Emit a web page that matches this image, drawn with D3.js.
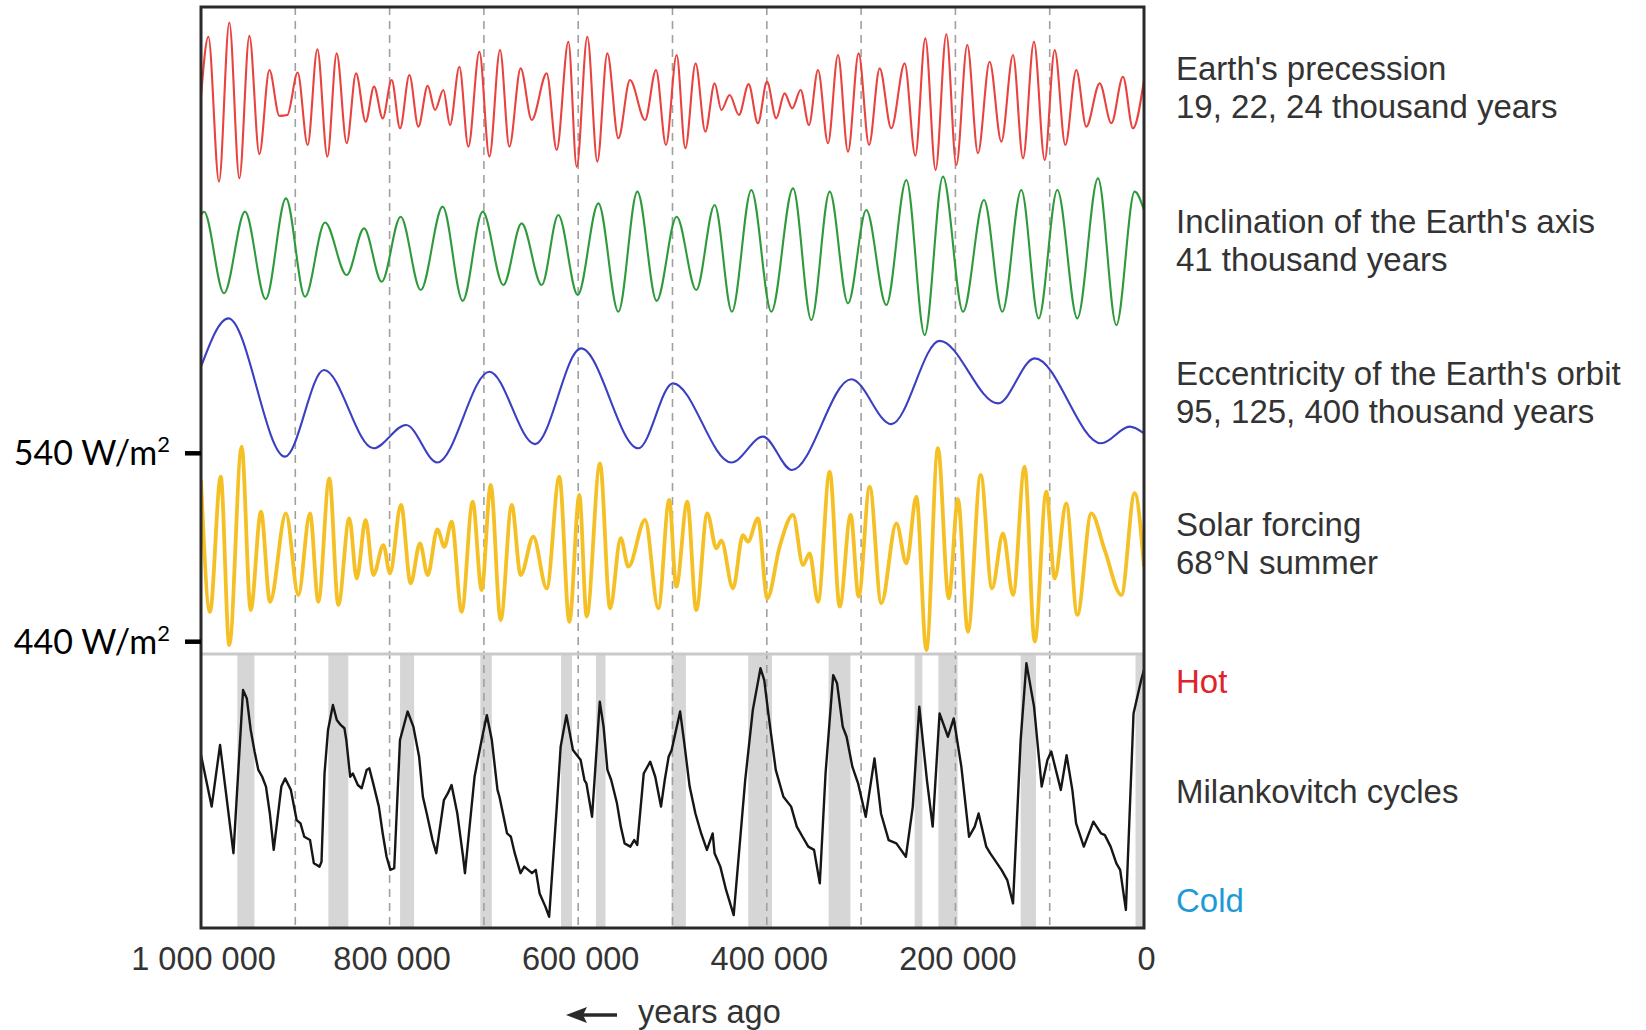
<!DOCTYPE html>
<html>
<head>
<meta charset="utf-8">
<script src="https://cdn.jsdelivr.net/npm/d3@7/dist/d3.min.js"></script>
<style>
  html, body { margin: 0; padding: 0; background: #fff; }
  svg { display: block; }
</style>
</head>
<body>
<svg id="chart" width="1646" height="1030"></svg>
<script>
// Time axis: thousands of years before present
const xTicks = [1000, 800, 600, 400, 200, 0];
const gridLines = [900, 800, 700, 600, 500, 400, 300, 200, 100];

// Precession index (relative units), [ka, value]
const precession = [
  [1000, 4], [992.2, 76], [980.9, -98], [970.0, 93], [959.3, -94], [948.7, 77], [938.1, -65],
  [927.5, 36], [916.9, -19], [908.4, -18], [897.5, 33], [886.9, -54], [876.6, 61], [866.0, -68],
  [856.1, 56], [845.5, -52], [835.6, 32], [825.4, -26], [816.5, 16], [807.3, -22], [797.8, 24],
  [788.9, -34], [779.0, 30], [769.5, -32], [759.6, 17], [751.8, -12], [743.0, 12], [735.9, -30],
  [726.0, 40], [716.5, -56], [704.8, 58], [694.2, -68], [682.9, 60], [673.0, -56], [661.0, 38],
  [649.3, -24], [633.4, 32], [622.8, -60], [610.4, 70], [601.6, -80], [590.3, 76], [579.7, -74],
  [569.1, 56], [557.4, -46], [545.1, 24], [529.1, -24], [517.5, 36], [506.9, -54], [495.6, 54],
  [486.4, -58], [475.5, 44], [465.2, -38], [455.3, 20], [448.2, -12], [439.4, 6], [429.5, -18],
  [419.3, 19], [409.4, -28], [399.8, 22], [390.0, -22], [381.1, 8], [373.0, -10], [364.1, 12],
  [355.3, -30], [345.7, 36], [335.1, -52], [324.5, 54], [313.9, -62], [302.6, 56], [291.6, -54],
  [280.3, 38], [268.0, -34], [253.8, 44], [242.5, -67], [231.9, 74], [221.0, -84], [209.6, 79],
  [199.0, -78], [187.4, 66], [176.1, -64], [163.7, 46], [151.3, -50], [138.9, 54], [128.3, -70],
  [116.7, 70], [105.3, -72], [94.7, 60], [83.4, -54], [71.8, 36], [61.2, -32], [47.0, 20],
  [34.6, -28], [22.3, 28], [11.7, -34], [0, 24]
];

// Obliquity (relative units), [ka, value]
const obliquity = [
  [1000, 46], [996.8, 50], [975.6, -48], [953.3, 50], [931.4, -55], [909.9, 66], [889.7, -52],
  [868.5, 37], [845.5, -26], [827.1, 30], [808.4, -34], [788.3, 44], [767.0, -44], [743.7, 56],
  [722.5, -57], [701.3, 50], [679.4, -38], [660.0, 36], [638.7, -38], [621.1, 46], [600.5, -50],
  [578.6, 60], [557.4, -70], [537.3, 74], [516.8, -57], [495.6, 44], [474.8, -44], [455.3, 58],
  [437.0, -70], [416.4, 76], [395.2, -70], [372.2, 78], [352.8, -80], [333.3, 74], [313.9, -60],
  [294.5, 52], [273.3, -62], [252.0, 88], [232.6, -98], [213.2, 92], [191.9, -70], [169.7, 64],
  [150.2, -70], [130.1, 76], [111.7, -78], [91.9, 76], [70.7, -78], [48.8, 90], [29.3, -86],
  [9.9, 74], [0, 52]
];

// Eccentricity (relative units), [ka, value]
const eccentricity = [
  [1000, 40], [971.0, 98], [910.9, -68], [869.6, 36], [817.2, -58], [782.6, -30], [749.4, -75],
  [694.2, 34], [645.8, -53], [597.0, 62], [536.2, -58], [499.5, 20], [437.6, -75], [404.0, -44],
  [373.3, -84], [310.4, 25], [268.0, -29], [216.7, 71], [154.8, -4], [115.9, 50], [45.3, -52],
  [15.2, -32], [0, -40]
];

// Summer insolation at 68°N (W/m²), [ka, value]
const solarForcing = [
  [1000, 525.8], [990.5, 455.9], [979.1, 527.6], [970.0, 438.2], [956.9, 543.5], [947.3, 456.8],
  [936.4, 509.0], [926.8, 461.2], [909.9, 508.1], [896.8, 464.8], [884.4, 508.1], [875.6, 461.2],
  [863.9, 526.7], [854.4, 459.5], [842.7, 505.5], [834.9, 473.6], [825.4, 504.6], [817.2, 475.4],
  [806.6, 491.3], [799.6, 476.3], [787.9, 512.6], [777.7, 471.0], [767.8, 492.2], [759.6, 475.4],
  [749.4, 499.6], [741.9, 490.4], [734.2, 503.7], [723.6, 455.9], [711.9, 514.3], [702.4, 467.4],
  [692.8, 523.2], [682.2, 451.5], [670.5, 512.6], [661.0, 475.4], [647.6, 495.7], [633.4, 468.3],
  [620.0, 527.6], [609.4, 450.6], [598.8, 517.9], [591.0, 453.3], [576.9, 534.7], [566.2, 457.7],
  [554.9, 494.9], [546.8, 479.8], [529.1, 504.6], [515.0, 457.7], [503.5, 515.2], [496.0, 469.2],
  [484.3, 514.3], [474.8, 456.8], [463.1, 508.1], [453.5, 489.6], [448.2, 493.6], [435.9, 468.3],
  [425.3, 496.6], [420.0, 493.1], [409.4, 505.5], [399.5, 463.0], [386.4, 490.4], [372.2, 507.3],
  [361.6, 480.7], [354.6, 486.9], [345.7, 461.2], [333.3, 530.3], [322.7, 458.6], [311.1, 507.3],
  [302.6, 463.9], [290.9, 522.3], [278.6, 460.4], [262.6, 502.8], [252.0, 481.6], [241.4, 517.0],
  [230.8, 435.6], [218.5, 542.7], [207.1, 463.0], [197.3, 515.6], [186.7, 445.3], [173.2, 528.5],
  [161.2, 468.3], [149.5, 497.5], [138.9, 464.8], [126.6, 532.9], [115.9, 440.0], [103.6, 519.6],
  [94.7, 473.6], [82.4, 513.4], [70.7, 454.2], [55.9, 508.1], [41.7, 488.7], [24.0, 464.8],
  [9.9, 518.8], [0, 479.8]
];

// Climate record (relative warmth, 0 = coldest, 100 = warmest), [ka, value]
const climate = [
  [1000, 63.1], [988.7, 44.3], [979.8, 66.8], [965.6, 27.3], [955.4, 86.9], [951.4, 83.8],
  [947.3, 72.3], [943.2, 64.4], [939.2, 57.7], [935.1, 55.2], [931.1, 51.6], [927.0, 41.8],
  [922.9, 28.5], [914.8, 51.6], [910.8, 54.6], [904.7, 50.4], [898.6, 39.4], [894.5, 38.2],
  [890.5, 33.3], [884.4, 32.1], [880.3, 23.6], [874.3, 22.4], [872.2, 24.2], [869.0, 56.4],
  [865.3, 72.3], [860.1, 81.4], [856.0, 75.9], [851.9, 74.1], [847.9, 72.9], [845.9, 68.6],
  [841.8, 55.2], [839.0, 56.4], [833.7, 52.2], [829.6, 51.0], [824.3, 57.7], [821.5, 58.3],
  [817.4, 52.8], [811.4, 44.3], [807.3, 34.5], [803.2, 26.0], [799.2, 21.2], [795.1, 21.8],
  [789.0, 68.6], [780.9, 79.0], [774.8, 73.5], [768.7, 62.5], [764.7, 47.9], [760.6, 41.8],
  [754.5, 32.1], [750.5, 27.3], [742.4, 46.7], [738.3, 49.1], [734.3, 52.2], [728.2, 41.8],
  [722.1, 26.0], [720.1, 20.0], [709.9, 55.2], [703.8, 66.2], [696.9, 77.7], [691.6, 68.6],
  [685.6, 50.4], [683.5, 47.9], [675.4, 34.5], [671.4, 33.3], [667.3, 27.3], [661.2, 20.0],
  [657.2, 22.4], [649.0, 20.0], [645.0, 21.2], [640.9, 12.6], [634.8, 7.8], [630.8, 4.1],
  [622.7, 44.3], [618.6, 66.2], [612.5, 77.7], [605.6, 65.0], [597.4, 61.3], [593.4, 54.0],
  [591.3, 52.8], [585.3, 40.6], [577.1, 82.6], [573.1, 73.5], [569.0, 57.7], [565.0, 54.0],
  [558.9, 45.5], [554.8, 37.0], [550.8, 30.9], [544.7, 29.7], [540.6, 32.1], [537.4, 30.3],
  [530.5, 56.4], [523.6, 60.7], [518.3, 55.2], [514.2, 47.9], [512.2, 44.3], [508.2, 54.0],
  [504.1, 62.5], [500.9, 65.0], [491.9, 79.0], [487.9, 68.6], [481.8, 51.6], [475.7, 41.8],
  [469.6, 34.5], [463.5, 28.5], [457.4, 34.5], [455.4, 27.3], [449.3, 22.4], [443.2, 13.9],
  [435.1, 4.7], [422.9, 54.0], [414.8, 79.6], [406.7, 94.8], [402.7, 90.5], [398.6, 79.0],
  [390.5, 57.7], [382.4, 47.9], [374.2, 44.3], [368.2, 37.0], [362.1, 33.3], [356.0, 29.7],
  [349.9, 28.5], [343.8, 16.3], [337.7, 56.4], [329.6, 92.3], [325.5, 89.3], [319.5, 73.5],
  [315.4, 69.8], [309.3, 58.9], [303.2, 52.8], [295.1, 40.6], [285.8, 61.9], [278.9, 41.8],
  [270.8, 32.1], [262.6, 30.9], [252.5, 26.0], [245.2, 44.3], [238.3, 80.8], [230.2, 54.0],
  [224.1, 37.0], [216.8, 78.3], [207.9, 69.8], [201.8, 76.5], [193.7, 58.9], [185.5, 33.3],
  [179.5, 37.0], [175.4, 41.8], [167.3, 29.7], [163.2, 27.3], [151.1, 21.2], [145.0, 17.5],
  [138.9, 9.0], [130.8, 68.6], [124.7, 96.6], [116.6, 80.8], [108.5, 51.6], [102.4, 61.3],
  [98.3, 64.4], [88.2, 50.4], [82.1, 63.1], [76.0, 50.4], [72.0, 38.2], [63.8, 29.7],
  [53.7, 38.8], [45.5, 34.5], [41.5, 33.9], [35.4, 29.7], [29.3, 23.6], [25.3, 21.2],
  [19.2, 6.6], [11.1, 78.3], [3.0, 90.5], [0, 94.2]
];

// Interglacial periods, [start ka, end ka]
const interglacials = [
  [961.5, 943.3], [864.9, 843.8], [788.9, 774.0], [703.8, 691.6], [618.2, 606.6], [581.2, 571.1],
  [500.9, 485.8], [419.7, 394.5], [334.5, 311.3], [243.2, 235.0], [218.0, 197.7], [130.8, 114.5],
  [9.0, 0]
];

const seriesLabels = [
  ["Earth's precession", "19, 22, 24 thousand years"],
  ["Inclination of the Earth's axis", "41 thousand years"],
  ["Eccentricity of the Earth's orbit", "95, 125, 400 thousand years"],
  ["Solar forcing", "68°N summer"]
];
const insolationTicks = [540, 440];

// ---- layout ----
const plot = { left: 201, right: 1144, top: 7, bottom: 928, split: 654 };
const svg = d3.select("#chart");
const textFont = "'Liberation Sans', Arial, sans-serif";
const labelSize = 33;

const x = d3.scaleLinear().domain([1000, 0]).range([plot.left, plot.right]);
const yPrec = d3.scaleLinear().domain([-100, 100]).range([183.3, 16.7]);
const yObl = d3.scaleLinear().domain([-100, 100]).range([336.7, 170]);
const yEcc = d3.scaleLinear().domain([-100, 100]).range([483.3, 316.7]);
const ySolar = d3.scaleLinear().domain([440, 540]).range([641.7, 453.3]);
const yClim = d3.scaleLinear().domain([0, 100]).range([plot.bottom, plot.split]);

// interglacial shading in the lower panel
svg.append("g").selectAll("rect").data(interglacials).join("rect")
  .attr("x", d => x(d[0]))
  .attr("width", d => x(d[1]) - x(d[0]))
  .attr("y", plot.split)
  .attr("height", plot.bottom - plot.split)
  .attr("fill", "#d6d6d6");

// dashed 100 kyr grid
svg.append("g").selectAll("line").data(gridLines).join("line")
  .attr("x1", d => x(d)).attr("x2", d => x(d))
  .attr("y1", plot.top).attr("y2", plot.bottom)
  .attr("stroke", "#a0a0a0").attr("stroke-width", 1.6)
  .attr("stroke-dasharray", "8,6");

svg.append("clipPath").attr("id", "plotClip").append("rect")
  .attr("x", plot.left).attr("y", plot.top)
  .attr("width", plot.right - plot.left).attr("height", plot.bottom - plot.top);

function drawSeries(data, yScale, color, width, curve) {
  const line = d3.line().x(d => x(d[0])).y(d => yScale(d[1])).curve(curve);
  svg.append("path").datum(data)
    .attr("d", line)
    .attr("fill", "none")
    .attr("stroke", color)
    .attr("stroke-width", width)
    .attr("stroke-linejoin", "round")
    .attr("clip-path", "url(#plotClip)");
}

drawSeries(precession, yPrec, "#e8433f", 2.1, d3.curveMonotoneX);
drawSeries(obliquity, yObl, "#2f9a3c", 2.1, d3.curveMonotoneX);
drawSeries(eccentricity, yEcc, "#3b3fc2", 2.1, d3.curveMonotoneX);
drawSeries(solarForcing, ySolar, "#f5c025", 3.8, d3.curveMonotoneX);
drawSeries(climate, yClim, "#161616", 2.4, d3.curveLinear);

// panel separator
svg.append("line")
  .attr("x1", plot.left).attr("x2", plot.right)
  .attr("y1", plot.split).attr("y2", plot.split)
  .attr("stroke", "#c9c9c9").attr("stroke-width", 3);

// frame
svg.append("rect")
  .attr("x", plot.left).attr("y", plot.top)
  .attr("width", plot.right - plot.left).attr("height", plot.bottom - plot.top)
  .attr("fill", "none").attr("stroke", "#2a2a2a").attr("stroke-width", 3);

// time axis labels
const fmtYears = ka => d3.format(",")(ka * 1000).replace(/,/g, " ");
const xAxis = d3.axisBottom(x).tickValues(xTicks).tickSize(0).tickPadding(0).tickFormat(fmtYears);
const gx = svg.append("g").attr("transform", `translate(2,${plot.bottom})`).call(xAxis);
gx.select(".domain").remove();
gx.selectAll("text")
  .attr("y", 42)
  .attr("dy", 0)
  .attr("font-family", textFont)
  .attr("font-size", 32.5)
  .attr("fill", "#333");

// "years ago" arrow
const arrowY = 1015;
svg.append("line").attr("x1", 580).attr("x2", 617).attr("y1", arrowY).attr("y2", arrowY)
  .attr("stroke", "#2a2a2a").attr("stroke-width", 3.5);
svg.append("path")
  .attr("d", `M566,${arrowY} L587,${arrowY - 8} L583,${arrowY} L587,${arrowY + 8} Z`)
  .attr("fill", "#2a2a2a");
svg.append("text").attr("x", 638).attr("y", 1023)
  .attr("font-family", textFont).attr("font-size", 32.5).attr("fill", "#333")
  .text("years ago");

// insolation scale ticks for the solar forcing curve
const gy = svg.append("g");
gy.selectAll("line").data(insolationTicks).join("line")
  .attr("x1", 185).attr("x2", plot.left)
  .attr("y1", d => ySolar(d)).attr("y2", d => ySolar(d))
  .attr("stroke", "#000").attr("stroke-width", 4.5);
const tickText = gy.selectAll("text").data(insolationTicks).join("text")
  .attr("x", 170)
  .attr("y", d => ySolar(d) + 12)
  .attr("text-anchor", "end")
  .attr("font-family", "Lato, 'Open Sans', sans-serif")
  .attr("font-size", 34)
  .attr("fill", "#000");
tickText.append("tspan").text(d => `${d} W/m`);
tickText.append("tspan").attr("font-size", 22).attr("dy", -13).text("2");

// series descriptions
const labelX = 1176;
const labelBase = [80, 233, 385, 536];
seriesLabels.forEach((pair, i) => {
  pair.forEach((t, j) => {
    svg.append("text")
      .attr("x", labelX).attr("y", labelBase[i] + j * 38)
      .attr("font-family", textFont).attr("font-size", labelSize).attr("fill", "#333")
      .text(t);
  });
});
svg.append("text").attr("x", labelX).attr("y", 693)
  .attr("font-family", textFont).attr("font-size", labelSize).attr("fill", "#e0232b").text("Hot");
svg.append("text").attr("x", labelX).attr("y", 803)
  .attr("font-family", textFont).attr("font-size", labelSize).attr("fill", "#333").text("Milankovitch cycles");
svg.append("text").attr("x", labelX).attr("y", 912)
  .attr("font-family", textFont).attr("font-size", labelSize).attr("fill", "#1f9ad6").text("Cold");
</script>
</body>
</html>
